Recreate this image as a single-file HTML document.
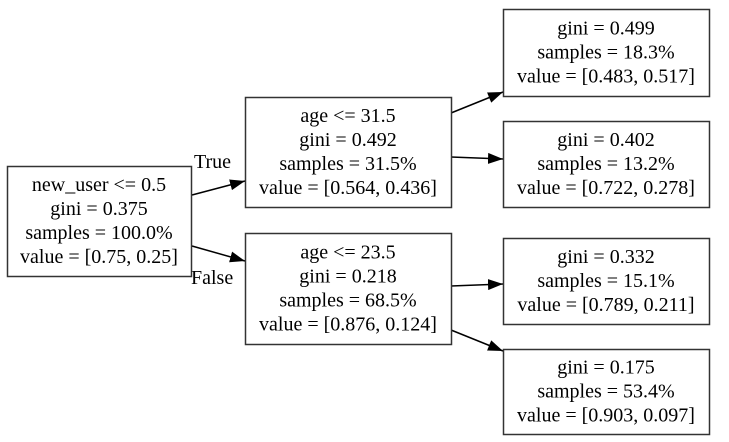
<!DOCTYPE html>
<html><head><meta charset="utf-8"><style>
html,body{margin:0;padding:0;background:#fff;width:729px;height:442px;overflow:hidden}
</style></head><body>
<svg id="tree" width="729" height="442" viewBox="0 0 729 442" xmlns="http://www.w3.org/2000/svg" font-family="'Liberation Serif', 'DejaVu Serif', serif" font-size="20">
<defs><marker id="ah" markerWidth="15" markerHeight="11" refX="15" refY="5.5" orient="auto" markerUnits="userSpaceOnUse"><path d="M0,0 L15,5.5 L0,11 z" fill="#000"/></marker></defs>
</svg>
<script>
const nodeNames=["root-node","node-age-31","node-age-23","leaf-1","leaf-2","leaf-3","leaf-4"];
const nodeLines=[
["new_user <= 0.5","gini = 0.375","samples = 100.0%","value = [0.75, 0.25]"],
["age <= 31.5","gini = 0.492","samples = 31.5%","value = [0.564, 0.436]"],
["age <= 23.5","gini = 0.218","samples = 68.5%","value = [0.876, 0.124]"],
["gini = 0.499","samples = 18.3%","value = [0.483, 0.517]"],
["gini = 0.402","samples = 13.2%","value = [0.722, 0.278]"],
["gini = 0.332","samples = 15.1%","value = [0.789, 0.211]"],
["gini = 0.175","samples = 53.4%","value = [0.903, 0.097]"]];
const nodeBoxes=[[7,166,184,110],[245,97,206,110],[245,233,206,111],[503,9,206,87],[503,121,206,86],[503,238,206,86],[503,349,206,85]];
const edges=[[192,195,245,181],[192,246,245,261],[451,113,503,92],[451,157,503,159],[451,286,503,284],[451,330,503,351]];
const svg=document.getElementById('tree');
const NS='http://www.w3.org/2000/svg';
const FF="'Liberation Serif', 'DejaVu Serif', serif";
edges.forEach((e,i)=>{
 const l=document.createElementNS(NS,'line');
 l.setAttribute('x1',e[0]);l.setAttribute('y1',e[1]);l.setAttribute('x2',e[2]);l.setAttribute('y2',e[3]);
 l.setAttribute('stroke','#000');l.setAttribute('stroke-width','1.5');l.setAttribute('marker-end','url(#ah)');
 
 
 svg.appendChild(l);
});
nodeBoxes.forEach((b,i)=>{
 const g=document.createElementNS(NS,'g');
 
 
 const r=document.createElementNS(NS,'rect');
 r.setAttribute('x',b[0]+0.5);r.setAttribute('y',b[1]+0.5);r.setAttribute('width',b[2]);r.setAttribute('height',b[3]);
 r.setAttribute('fill','#fff');r.setAttribute('stroke','#333');r.setAttribute('stroke-width','1.5');
 g.appendChild(r);
 const lines=nodeLines[i];const lh=24;
 const cy=b[1]+b[3]/2;const y0=cy-(lines.length-1)*lh/2;
 lines.forEach((s,j)=>{
  const t=document.createElementNS(NS,'text');
  t.setAttribute('x',b[0]+b[2]/2);t.setAttribute('y',y0+j*lh+6);t.setAttribute('text-anchor','middle');
  t.setAttribute('font-family',FF);t.setAttribute('font-size','20');
  t.textContent=s;
  
  
  g.appendChild(t);
 });
 svg.appendChild(g);
});
const lt=document.createElementNS(NS,'text');lt.setAttribute('x',194);lt.setAttribute('y',168);lt.textContent='True';
lt.setAttribute('font-family',FF);lt.setAttribute('font-size','20');


svg.appendChild(lt);
const lf=document.createElementNS(NS,'text');lf.setAttribute('x',191);lf.setAttribute('y',284);lf.textContent='False';
lf.setAttribute('font-family',FF);lf.setAttribute('font-size','20');


svg.appendChild(lf);
</script>
</body></html>
